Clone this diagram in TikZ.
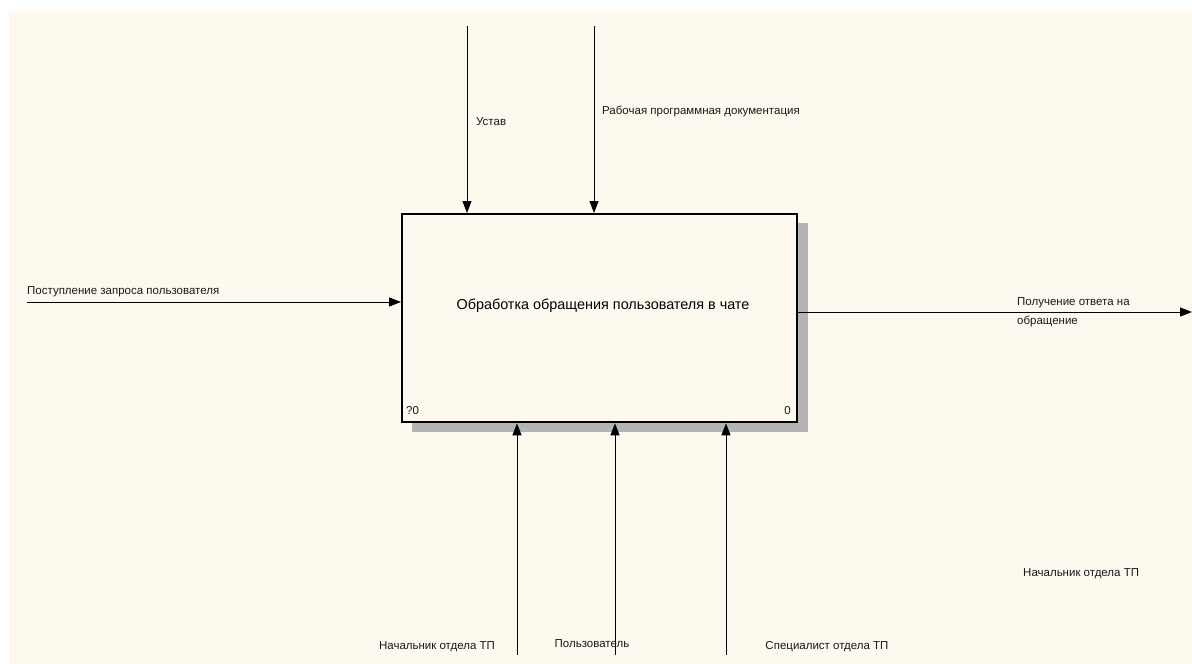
\documentclass[tikz,border=0pt]{standalone}
\usepackage{fontspec}
\setmainfont{Liberation Sans}
\usetikzlibrary{arrows.meta}
\definecolor{bgc}{HTML}{FEF9EF}
\definecolor{shadowc}{HTML}{B4B4B4}
\tikzset{
  arr/.style={line width=1pt, -{Triangle[length=12pt,width=9pt]}},
  lbl/.style={font=\fontsize{11.5}{14}\selectfont, inner sep=0pt, anchor=west, text=black!90},
  boxst/.style={draw, line width=2.3pt, fill=bgc, minimum width=395pt, minimum height=208pt, anchor=north west, inner sep=0pt},
}
\begin{document}
\begin{tikzpicture}[x=1pt,y=-1pt]
\useasboundingbox (0,0) rectangle (1192,664);
\fill[white] (0,0) rectangle (1192,664);
\fill[bgc] (9,11) rectangle (1192,664);
% shadow
\fill[shadowc] (796,223) rectangle (808,432);
\fill[shadowc] (412,421) rectangle (808,432);
% box
\node[boxst] (box) at (401,213) {};
\node[font=\fontsize{14.4}{17}\selectfont, inner sep=0pt] (title) at (603,306) {Обработка обращения пользователя в чате};
\node[lbl] (num) at (406,411) {?0};
\node[lbl, anchor=east] (num0) at (791,411) {0};
% controls (top)
\coordinate (t1) at (467,26);
\coordinate (t2) at (594,26);
\draw[arr] (t1) -- (t1 |- box.north);
\draw[arr] (t2) -- (t2 |- box.north);
\node[lbl] (l1) at (476,122) {Устав};
\node[lbl] (l2) at (602,111) {Рабочая программная документация};
% input
\coordinate (in) at (27,302);
\draw[arr] (in) -- (box.west |- in);
\node[lbl] (l3) at (27,292) {Поступление запроса пользователя};
% output
\coordinate (out) at (1192,312);
\draw[arr] (box.east |- out) -- (out);
\node[lbl] (l4) at (1017,303) {Получение ответа на};
\node[lbl] (l5) at (1017,321) {обращение};
% mechanisms (bottom)
\coordinate (b1) at (517,655);
\coordinate (b2) at (615,655);
\coordinate (b3) at (726,655);
\draw[arr] (b1) -- (b1 |- box.south);
\draw[arr] (b2) -- (b2 |- box.south);
\draw[arr] (b3) -- (b3 |- box.south);
\node[lbl, anchor=center] (l6) at (437,647) {Начальник отдела ТП};
\node[lbl, anchor=center] (l7) at (592,644) {Пользователь};
\node[lbl, anchor=center] (l8) at (827,647) {Специалист отдела ТП};
\node[lbl] (l9) at (1023,574) {Начальник отдела ТП};
\end{tikzpicture}
\end{document}
